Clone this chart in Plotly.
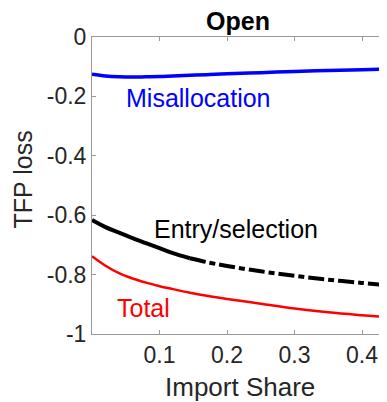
import plotly.graph_objects as go

# ---- data ----
import_share = [0.0, 0.02, 0.04, 0.06, 0.08, 0.10, 0.12, 0.145, 0.17, 0.20, 0.25, 0.30, 0.35, 0.40, 0.44]
misallocation = [-0.125, -0.131, -0.134, -0.135, -0.134, -0.133, -0.131, -0.129, -0.127, -0.124, -0.120, -0.116, -0.113, -0.110, -0.108]
entry_selection = [-0.616, -0.640, -0.659, -0.677, -0.694, -0.711, -0.728, -0.745, -0.758, -0.771, -0.789, -0.804, -0.817, -0.828, -0.836]
total = [-0.738, -0.770, -0.795, -0.813, -0.827, -0.839, -0.849, -0.861, -0.871, -0.882, -0.898, -0.914, -0.927, -0.937, -0.944]
solid_until = 7  # index where the entry/selection line switches to dash-dot

x_ticks = [0.1, 0.2, 0.3, 0.4]
x_ticklabels = ["0.1", "0.2", "0.3", "0.4"]
y_ticks = [0, -0.2, -0.4, -0.6, -0.8, -1]
y_ticklabels = ["0", "-0.2", "-0.4", "-0.6", "-0.8", "-1"]

FONT = "Liberation Sans, Arial, sans-serif"
AXIS_TEXT = "#262626"

fig = go.Figure()
fig.add_trace(go.Scatter(x=import_share, y=misallocation, mode="lines",
                         line=dict(color="#0000ff", width=3.5, shape="spline"), showlegend=False))
fig.add_trace(go.Scatter(x=import_share[:solid_until + 1], y=entry_selection[:solid_until + 1], mode="lines",
                         line=dict(color="#000000", width=4, shape="spline"), showlegend=False))
fig.add_trace(go.Scatter(x=import_share[solid_until:], y=entry_selection[solid_until:], mode="lines",
                         line=dict(color="#000000", width=4, dash="16px,4px,6px,4px", shape="spline"),
                         showlegend=False))
fig.add_trace(go.Scatter(x=import_share, y=total, mode="lines",
                         line=dict(color="#ff0000", width=2.5, shape="spline"), showlegend=False))

fig.add_annotation(x=0.158, y=-0.205, text="Misallocation", showarrow=False,
                   font=dict(family=FONT, size=25, color="#0000ff"))
fig.add_annotation(x=0.213, y=-0.648, text="Entry/selection", showarrow=False,
                   font=dict(family=FONT, size=25, color="#000000"))
fig.add_annotation(x=0.077, y=-0.912, text="Total", showarrow=False,
                   font=dict(family=FONT, size=25, color="#ff0000"))

# axis titles as annotations for exact placement
fig.add_annotation(xref="paper", yref="paper", x=0.5, y=0, xanchor="center", yanchor="middle",
                   yshift=-53, text="Import Share", showarrow=False,
                   font=dict(family=FONT, size=26, color=AXIS_TEXT))
fig.add_annotation(xref="paper", yref="paper", x=0, y=0.5, xanchor="center", yanchor="middle",
                   xshift=-70, yshift=6, textangle=-90, text="TFP loss", showarrow=False,
                   font=dict(family=FONT, size=25, color=AXIS_TEXT))

axis_common = dict(showline=True, linecolor="#9a9a9a", linewidth=1, mirror="ticks",
                   ticks="inside", ticklen=4, tickcolor="#9a9a9a", showgrid=False, zeroline=False,
                   automargin=False,
                   tickfont=dict(family=FONT, size=23, color=AXIS_TEXT))

fig.update_xaxes(range=[0, 0.437], tickvals=x_ticks, ticktext=x_ticklabels, **axis_common)
fig.update_yaxes(range=[-1, 0], tickvals=y_ticks, ticktext=y_ticklabels, **axis_common)

# the page body adds an 8px offset, so the figure is 8px smaller and margins shifted
fig.update_layout(
    width=379, height=394,
    margin=dict(l=84, r=0, t=29, b=68),
    plot_bgcolor="white", paper_bgcolor="white",
    title=dict(text="<b>Open</b>", xref="paper", x=0.495, xanchor="center",
               yref="container", y=0.967, yanchor="middle",
               font=dict(family=FONT, size=25, color="#000000")),
)

fig.write_html("out.html")
